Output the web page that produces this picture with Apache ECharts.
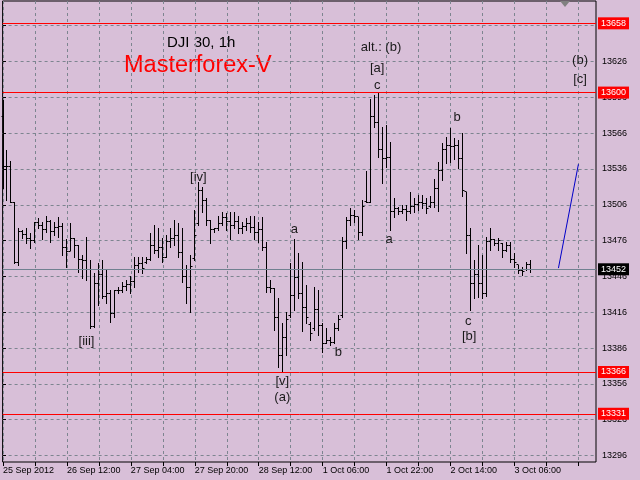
<!DOCTYPE html>
<html><head><meta charset="utf-8">
<script src="https://cdn.jsdelivr.net/npm/echarts@6/dist/echarts.min.js"></script>
<style>html,body{margin:0;padding:0;background:#D8BFD8}#c{width:640px;height:480px}</style>
</head><body><div id="c"></div>
<script>
// Hourly OHLC bars, DJI 30 (index 0 = 25 Sep 2012 20:00)
const opens = [13580,13538,13538,13508,13458,13484,13481,13478,13476,13491,
13489,13485,13492,13484,13487,13488,13470,13467,13478,13472,
13460,13459,13452,13404,13440,13448,13429,13432,13415,13434,
13434,13438,13439,13442,13455,13457,13458,13460,13472,13468,
13470,13462,13475,13478,13480,13466,13446,13437,13461,13490,
13518,13510,13493,13485,13486,13490,13495,13492,13489,13492,
13486,13488,13490,13487,13483,13485,13470,13437,13436,13412,
13380,13395,13413,13430,13445,13432,13420,13406,13402,13418,
13405,13390,13392,13391,13402,13413,13475,13493,13497,13496,
13483,13509,13508,13580,13575,13552,13545,13546,13500,13503,
13500,13502,13500,13505,13506,13508,13507,13505,13508,13520,
13535,13552,13556,13555,13556,13545,13517,13480,13440,13448,
13440,13432,13475,13477,13474,13474,13468,13472,13460,13456,
13451,13452,13456];
const highs = [13594,13552,13543,13508,13487,13485,13487,13482,13492,13495,
13492,13497,13493,13492,13496,13491,13477,13491,13478,13472,
13464,13479,13460,13449,13457,13460,13451,13435,13435,13437,
13441,13443,13446,13462,13462,13462,13462,13482,13489,13487,
13478,13481,13487,13493,13491,13487,13456,13464,13502,13525,
13521,13512,13493,13487,13497,13500,13499,13500,13500,13497,
13492,13495,13497,13497,13492,13496,13475,13443,13436,13428,
13407,13416,13457,13477,13466,13458,13439,13408,13437,13435,
13407,13403,13395,13407,13414,13479,13496,13503,13502,13496,
13510,13534,13595,13598,13600,13571,13573,13559,13512,13504,
13506,13506,13517,13512,13514,13514,13512,13513,13528,13542,
13558,13563,13570,13562,13560,13566,13517,13487,13460,13472,
13464,13479,13487,13477,13478,13474,13475,13475,13466,13456,
13454,13458,13460];
const lows = [13520,13510,13508,13457,13456,13478,13474,13470,13475,13487,
13477,13483,13475,13481,13479,13464,13454,13468,13462,13450,
13445,13443,13403,13404,13422,13428,13424,13408,13412,13432,
13433,13435,13432,13437,13450,13449,13457,13460,13466,13462,
13458,13462,13471,13472,13462,13441,13424,13416,13460,13489,
13500,13489,13474,13483,13485,13489,13485,13477,13487,13482,
13482,13485,13483,13477,13475,13468,13433,13433,13401,13370,
13366,13380,13412,13418,13428,13400,13407,13393,13401,13397,
13383,13390,13389,13390,13401,13412,13470,13489,13492,13477,
13481,13508,13508,13571,13546,13524,13538,13485,13496,13498,
13499,13493,13499,13500,13502,13503,13499,13504,13504,13501,
13527,13541,13542,13544,13537,13513,13466,13418,13428,13429,
13428,13430,13468,13472,13468,13462,13467,13458,13454,13449,
13447,13451,13450];
const closes = [13538,13538,13508,13458,13484,13481,13478,13476,13491,13489,
13485,13492,13484,13487,13488,13470,13467,13478,13472,13460,
13459,13452,13404,13440,13448,13429,13432,13415,13434,13434,
13438,13439,13442,13455,13457,13453,13460,13472,13468,13470,
13462,13475,13478,13480,13466,13446,13437,13454,13480,13518,
13510,13493,13485,13486,13490,13495,13492,13489,13492,13486,
13488,13490,13487,13483,13485,13470,13437,13436,13412,13380,
13395,13410,13430,13445,13432,13420,13412,13398,13418,13405,
13390,13392,13391,13402,13410,13475,13493,13497,13496,13483,
13505,13508,13580,13575,13552,13545,13546,13500,13503,13500,
13502,13500,13505,13506,13508,13507,13503,13508,13520,13535,
13552,13556,13555,13556,13545,13518,13480,13440,13448,13440,
13432,13475,13477,13474,13476,13468,13472,13460,13458,13451,
13450,13456,13452];

const timeLabels = ['25 Sep 2012','26 Sep 12:00','27 Sep 04:00','27 Sep 20:00','28 Sep 12:00','1 Oct 06:00','1 Oct 22:00','2 Oct 14:00','3 Oct 06:00'];
const barsPerLabel = 16;
const barsPerGrid = 8;
const futureBars = 16;
const yTicks = [13296,13326,13356,13386,13416,13446,13476,13506,13536,13566,13596,13626,13656];
const redLevels = [13658,13600,13366,13331];
const bidPrice = 13452;
const forecastIdx = [139,144];
const forecastPrice = [13453,13540];
const waveIdx =   [94.6, 93.65, 93.65, 113.65, 72.9, 48.9, 20.9, 69.9, 69.9, 83.9, 96.65, 116.4, 116.65, 144.4, 144.4];
const wavePrice = [13638,13620,13606,13579,13485,13529,13392,13358,13345,13382,13477,13408,13396,13627,13611];
const waveText =  ['alt.: (b)','[a]','c','b','a','[iv]','[iii]','[v]','(a)','b','a','c','[b]','(b)','[c]'];

const nBars = opens.length;
const ohlc = opens.map((o, i) => [i, o, highs[i], lows[i], closes[i]]);
const xMin = -0.1, xMax = nBars + futureBars - 0.6;
const labelVals = timeLabels.map((t, k) => k * barsPerLabel);
const gridVals = [];
for (let v = 0; v <= nBars + futureBars - 4; v += barsPerGrid) gridVals.push(v);
const FONT = 'Liberation Sans';

const chart = echarts.init(document.getElementById('c'), null, {renderer: 'canvas'});
function crisp(v) { return Math.round(v - 0.5) + 0.5; }

chart.setOption({
  animation: false,
  backgroundColor: '#D8BFD8',
  grid: {left: 2, right: 44, top: 1, bottom: 18, show: true, borderColor: '#000', borderWidth: 1, backgroundColor: 'transparent'},
  xAxis: {
    type: 'value', min: xMin, max: xMax,
    axisLine: {show: false},
    axisTick: {show: true, customValues: gridVals, length: 4, lineStyle: {color: '#000'}},
    axisLabel: {show: true, customValues: labelVals, formatter: v => timeLabels[Math.round(v / barsPerLabel)] || '',
      align: 'left', margin: 4, fontSize: 9, fontFamily: FONT, color: '#000'},
    splitLine: {show: true, lineStyle: {color: '#7d8590', type: [3, 3], width: 1}}
  },
  yAxis: {
    type: 'value', position: 'right', min: 13290.6, max: 13676.7, scale: true,
    axisLine: {show: false},
    axisTick: {show: true, customValues: yTicks, length: 3, lineStyle: {color: '#000'}},
    axisLabel: {show: true, customValues: yTicks, formatter: v => String(Math.round(v)), margin: 6, fontSize: 9, fontFamily: FONT, color: '#000'},
    splitLine: {show: true, lineStyle: {color: '#7d8590', type: [3, 3], width: 1}}
  },
  graphic: [
    {type: 'text', left: 167, top: 35, style: {text: 'DJI 30, 1h', fontSize: 15, fontFamily: FONT, fill: '#000'}},
    {type: 'text', left: 124, top: 54, style: {text: 'Masterforex-V', fontSize: 23.5, fontFamily: FONT, fill: '#ff0000'}},
    {type: 'polygon', shape: {points: [[560, 1], [570, 1], [565, 7]]}, style: {fill: '#808080'}}
  ],
  series: [
    {
      type: 'line', data: [], silent: true, z: 6,
      markLine: {
        symbol: 'none', silent: true, animation: false, z: 6,
        data: redLevels.map(v => ({yAxis: v, lineStyle: {color: '#ff0000', type: 'solid', width: 1, opacity: 1},
          label: {show: true, position: 'end', formatter: String(v), backgroundColor: '#ff0000', color: '#ffffff',
            fontSize: 9, fontFamily: FONT, padding: [2, 3, 1, 3], distance: 2}}))
          .concat([{yAxis: bidPrice, lineStyle: {color: '#708090', type: 'solid', width: 1},
            label: {show: true, position: 'end', formatter: String(bidPrice), backgroundColor: '#000000', color: '#ffffff',
              fontSize: 9, fontFamily: FONT, padding: [2, 3, 1, 3], distance: 2}}])
      }
    },
    {
      type: 'custom', data: ohlc, encode: {x: 0, y: [1, 2, 3, 4]}, z: 3,
      renderItem: function (params, api) {
        const i = api.value(0);
        const x = crisp(api.coord([i, api.value(2)])[0]);
        const yh = Math.round(api.coord([i, api.value(2)])[1]);
        const yl = Math.round(api.coord([i, api.value(3)])[1]);
        const yo = crisp(api.coord([i, api.value(1)])[1]);
        const yc = crisp(api.coord([i, api.value(4)])[1]);
        const st = {stroke: '#000', lineWidth: 1};
        return {type: 'group', children: [
          {type: 'line', shape: {x1: x, y1: yh, x2: x, y2: yl + 1}, style: st},
          {type: 'line', shape: {x1: x - 2, y1: yo, x2: x, y2: yo}, style: st},
          {type: 'line', shape: {x1: x, y1: yc, x2: x + 2, y2: yc}, style: st}
        ]};
      }
    },
    {
      type: 'line', data: forecastIdx.map((v, k) => [v, forecastPrice[k]]), symbol: 'none',
      lineStyle: {color: '#0000c8', width: 1}, z: 4
    },
    {
      type: 'custom', data: waveIdx.map((v, k) => [v, wavePrice[k], k]), encode: {x: 0, y: 1}, z: 5,
      renderItem: function (params, api) {
        const p = api.coord([api.value(0), api.value(1)]);
        return {type: 'text', x: p[0], y: p[1], style: {text: waveText[api.value(2)], fontSize: 13, fontFamily: FONT,
          fill: '#1a1a1a', align: 'center', verticalAlign: 'middle'}};
      }
    }
  ]
});
</script>
</body></html>
